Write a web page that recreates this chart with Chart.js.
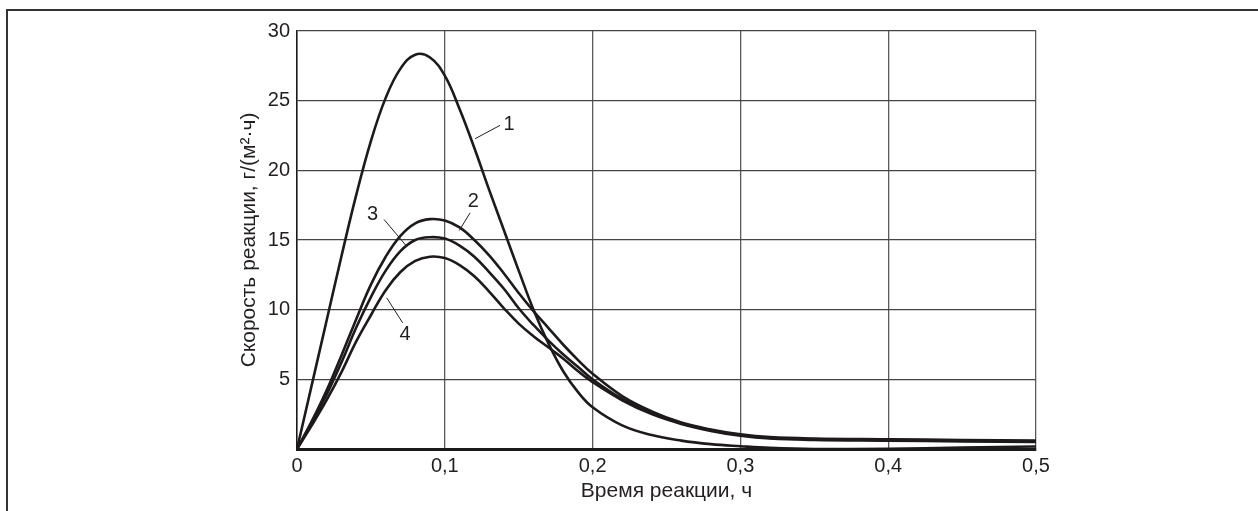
<!DOCTYPE html>
<html lang="ru">
<head>
<meta charset="utf-8">
<title>Скорость реакции</title>
<script src="https://cdn.jsdelivr.net/npm/chart.js@4/dist/chart.umd.min.js"></script>
<style>
  html, body { margin: 0; padding: 0; background: #ffffff; }
  #wrap { width: 1258px; height: 511px; }
</style>
</head>
<body>
<div id="wrap"><canvas id="c" width="1258" height="511"></canvas></div>
<script>
// Время реакции, ч
const timeH = [0, 0.01, 0.02, 0.03, 0.04, 0.05, 0.06, 0.07, 0.08, 0.09, 0.1, 0.11, 0.12, 0.13, 0.14,
  0.15, 0.16, 0.17, 0.18, 0.19, 0.2, 0.22, 0.24, 0.26, 0.28, 0.3, 0.32, 0.35, 0.4, 0.45, 0.5];

// Скорость реакции, г/(м²·ч), кривые 1–4
const rate1 = [0, 4.6, 9.2, 13.8, 18.2, 22.1, 25.2, 27.3, 28.3, 28.1, 26.8, 24.4, 21.6, 18.6, 15.7,
  12.8, 10.0, 7.6, 5.6, 4.1, 3.0, 1.7, 1.0, 0.6, 0.35, 0.2, 0.08, 0.0, 0.02, 0.1, 0.18];
const rate2 = [0, 2.0, 4.2, 6.7, 9.3, 11.8, 13.8, 15.3, 16.2, 16.5, 16.4, 15.9, 15.0, 13.9, 12.6,
  11.2, 9.9, 8.7, 7.5, 6.4, 5.4, 3.8, 2.7, 1.9, 1.4, 1.05, 0.85, 0.75, 0.7, 0.65, 0.6];
const rate3 = [0, 1.9, 3.9, 6.2, 8.7, 10.9, 12.8, 14.2, 15.0, 15.2, 15.1, 14.6, 13.8, 12.7, 11.5,
  10.1, 8.9, 7.8, 6.8, 5.9, 5.0, 3.6, 2.6, 1.85, 1.35, 1.0, 0.8, 0.7, 0.65, 0.6, 0.55];
const rate4 = [0, 1.7, 3.5, 5.5, 7.7, 9.6, 11.4, 12.7, 13.5, 13.8, 13.7, 13.2, 12.4, 11.3, 10.1,
  9.0, 8.1, 7.3, 6.5, 5.6, 4.8, 3.5, 2.5, 1.8, 1.3, 0.95, 0.75, 0.65, 0.6, 0.55, 0.5];

const curveNames = ['1', '2', '3', '4'];
const xTickLabels = ['0', '0,1', '0,2', '0,3', '0,4', '0,5'];
const yTickLabels = ['', '5', '10', '15', '20', '25', '30'];

// Номера кривых: положение подписи и выноски (в единицах осей)
const curveCallouts = [
  { text: '1', at: [0.1435, 23.3], from: [0.1205, 22.27], to: [0.1374, 23.23] },
  { text: '2', at: [0.1193, 17.8], from: [0.1098, 15.68], to: [0.1171, 16.95] },
  { text: '3', at: [0.0512, 16.85], from: [0.0742, 14.55], to: [0.0589, 16.47] },
  { text: '4', at: [0.0731, 8.2], from: [0.0607, 10.85], to: [0.0715, 9.05] }
];

const FONT = '"Liberation Sans", Arial, Helvetica, sans-serif';
const INK = '#231f20';

function points(ys) {
  return timeH.map((t, i) => ({ x: t, y: ys[i] }));
}

const series = [rate1, rate2, rate3, rate4];

// Рамка рисунка
const framePlugin = {
  id: 'figureFrame',
  beforeDraw(chart) {
    const ctx = chart.ctx;
    ctx.save();
    ctx.strokeStyle = '#333333';
    ctx.lineWidth = 2;
    ctx.beginPath();
    ctx.moveTo(7, chart.height + 5);
    ctx.lineTo(7, 10);
    ctx.lineTo(chart.width + 5, 10);
    ctx.stroke();
    ctx.restore();
  }
};

// Подписи номеров кривых с выносками
const calloutPlugin = {
  id: 'curveCallouts',
  afterDatasetsDraw(chart) {
    const { ctx, scales: { x, y } } = chart;
    ctx.save();
    ctx.strokeStyle = INK;
    ctx.lineWidth = 1;
    ctx.fillStyle = INK;
    ctx.font = '20px ' + FONT;
    ctx.textAlign = 'center';
    ctx.textBaseline = 'middle';
    curveCallouts.forEach(c => {
      ctx.beginPath();
      ctx.moveTo(x.getPixelForValue(c.from[0]), y.getPixelForValue(c.from[1]));
      ctx.lineTo(x.getPixelForValue(c.to[0]), y.getPixelForValue(c.to[1]));
      ctx.stroke();
      ctx.fillText(c.text, x.getPixelForValue(c.at[0]), y.getPixelForValue(c.at[1]));
    });
    ctx.restore();
  }
};

new Chart(document.getElementById('c'), {
  type: 'line',
  data: {
    datasets: series.map((ys, i) => ({
      label: curveNames[i],
      data: points(ys),
      borderColor: '#1e1a1b',
      borderWidth: 2.6,
      pointRadius: 0,
      fill: false,
      tension: 0.4
    }))
  },
  options: {
    responsive: false,
    animation: false,
    devicePixelRatio: 1,
    layout: { padding: { top: 31, right: 222, bottom: 7, left: 237 } },
    plugins: { legend: { display: false }, tooltip: { enabled: false } },
    scales: {
      x: {
        type: 'linear',
        min: 0,
        max: 0.5,
        afterFit(scale) { scale.height = 55; },
        border: { display: true, color: '#1a1a1a', width: 3 },
        grid: { color: '#5a5a5a', lineWidth: 1.3, drawTicks: false },
        ticks: {
          stepSize: 0.1,
          padding: 5,
          color: INK,
          font: { family: FONT, size: 20 },
          maxRotation: 0,
          callback: (v, i) => xTickLabels[i]
        },
        title: {
          display: true,
          text: 'Время реакции, ч',
          color: INK,
          font: { family: FONT, size: 21, lineHeight: 1.2 },
          padding: 0
        }
      },
      y: {
        min: 0,
        max: 30,
        afterFit(scale) { scale.width = 60; },
        border: { display: true, color: '#1a1a1a', width: 1.5 },
        grid: { color: '#444444', lineWidth: 1.3, drawTicks: false },
        ticks: {
          stepSize: 5,
          padding: 7,
          color: INK,
          font: { family: FONT, size: 20 },
          callback: (v, i) => yTickLabels[i]
        },
        title: {
          display: true,
          text: 'Скорость реакции, г/(м²·ч)',
          color: INK,
          font: { family: FONT, size: 21, lineHeight: 1.2 },
          padding: 0
        }
      }
    }
  },
  plugins: [framePlugin, calloutPlugin]
});
</script>
</body>
</html>
